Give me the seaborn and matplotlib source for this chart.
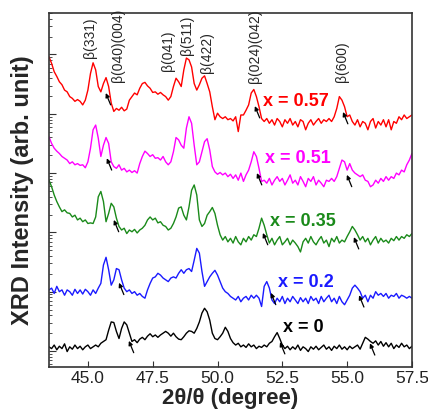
import numpy as np
import pandas as pd
import matplotlib
matplotlib.use("Agg")
import matplotlib.pyplot as plt
import seaborn as sns
from matplotlib.ticker import LogLocator, NullFormatter, FormatStrFormatter

# 2theta scan grid (degree)
two_theta = np.round(np.arange(43.5, 57.55, 0.1), 1)

samples = ["x = 0.57", "x = 0.51", "x = 0.35", "x = 0.2", "x = 0"]
colors = ["#ff0000", "#ff00ff", "#1a8a1a", "#1a1aff", "#000000"]

# log10 of intensity (arb. unit)
log_i_057 = [5.96, 5.85, 5.71, 5.63, 5.54, 5.49, 5.40, 5.37, 5.29, 5.26,
             5.21, 5.24, 5.21, 5.15, 5.23, 5.40, 5.68, 5.86, 5.74, 5.46,
             5.37, 5.51, 5.61, 5.46, 5.18, 5.04, 5.09, 5.06, 5.11, 5.05,
             5.08, 5.23, 5.29, 5.35, 5.32, 5.43, 5.51, 5.53, 5.47, 5.43,
             5.36, 5.37, 5.33, 5.36, 5.32, 5.29, 5.23, 5.29, 5.46, 5.60,
             5.54, 5.46, 5.74, 5.94, 5.91, 5.79, 5.51, 5.40, 5.49, 5.60,
             5.64, 5.51, 5.37, 5.12, 4.90, 5.01, 4.95, 4.92, 4.95, 4.90,
             4.92, 4.88, 4.95, 4.70, 4.98, 4.98, 5.06, 5.15, 5.35, 5.41,
             5.29, 5.12, 4.92, 4.87, 4.92, 4.84, 4.90, 4.81, 4.92, 4.87,
             4.78, 4.90, 4.84, 4.92, 4.81, 4.87, 4.78, 4.90, 4.87, 4.73,
             4.84, 4.90, 4.81, 4.87, 4.92, 4.84, 4.90, 4.87, 4.92, 4.87,
             4.95, 5.09, 5.29, 5.23, 5.12, 4.95, 4.98, 4.87, 4.81, 4.90,
             4.78, 4.87, 4.84, 4.73, 4.87, 4.92, 4.76, 4.87, 4.81, 4.90,
             4.78, 4.90, 4.73, 4.87, 4.84, 4.95, 4.90, 4.98, 4.92, 4.95,
             4.98]
log_i_051 = [4.61, 4.50, 4.42, 4.37, 4.33, 4.28, 4.25, 4.22, 4.16, 4.19,
             4.14, 4.16, 4.13, 4.14, 4.09, 4.19, 4.42, 4.73, 4.81, 4.59,
             4.28, 4.47, 4.60, 4.50, 4.19, 4.11, 4.08, 4.14, 4.05, 4.08,
             4.02, 4.05, 4.01, 4.04, 4.00, 4.16, 4.28, 4.37, 4.33, 4.28,
             4.31, 4.25, 4.26, 4.22, 4.28, 4.19, 4.14, 4.19, 4.36, 4.60,
             4.56, 4.47, 4.42, 4.76, 4.95, 4.84, 4.47, 4.14, 4.19, 4.36,
             4.53, 4.58, 4.39, 4.11, 4.02, 3.98, 4.01, 3.97, 4.00, 3.94,
             3.98, 3.91, 3.97, 3.88, 4.00, 3.86, 3.97, 4.05, 4.19, 4.36,
             4.28, 4.08, 3.86, 3.88, 3.83, 3.91, 3.80, 3.88, 3.94, 3.86,
             3.91, 3.80, 3.88, 3.97, 3.83, 3.88, 3.80, 3.94, 3.86, 3.77,
             3.91, 3.86, 3.94, 3.80, 3.88, 3.83, 3.77, 3.88, 3.86, 3.91,
             3.86, 3.94, 4.08, 4.22, 4.19, 4.05, 4.16, 4.05, 4.00, 3.97,
             3.94, 3.97, 3.88, 3.86, 3.77, 3.80, 3.88, 3.83, 3.91, 3.86,
             3.94, 3.88, 3.94, 3.91, 4.00, 3.97, 4.05, 4.02, 4.14, 4.22,
             4.33]
log_i_035 = [3.88, 3.77, 3.63, 3.52, 3.43, 3.35, 3.38, 3.33, 3.32, 3.26,
             3.29, 3.21, 3.24, 3.18, 3.21, 3.15, 3.16, 3.15, 3.26, 3.60,
             3.69, 3.52, 3.18, 3.32, 3.49, 3.43, 3.24, 3.10, 3.04, 3.07,
             2.98, 3.04, 3.01, 3.05, 2.99, 3.04, 3.07, 3.12, 3.21, 3.26,
             3.21, 3.24, 3.16, 3.18, 3.12, 3.10, 3.04, 3.07, 3.15, 3.26,
             3.41, 3.43, 3.29, 3.21, 3.43, 3.71, 3.80, 3.63, 3.21, 3.10,
             3.15, 3.29, 3.35, 3.42, 3.32, 3.12, 2.96, 2.87, 2.93, 2.84,
             2.90, 2.82, 2.93, 2.84, 2.79, 2.90, 2.84, 2.93, 2.87, 2.96,
             2.93, 3.07, 3.24, 3.12, 2.96, 2.82, 2.90, 2.79, 2.87, 2.93,
             2.79, 2.84, 2.90, 2.79, 2.87, 2.82, 2.76, 2.67, 2.84, 2.90,
             2.82, 2.93, 2.84, 2.79, 2.87, 2.93, 2.82, 2.87, 2.76, 2.90,
             2.84, 2.93, 2.82, 2.87, 2.84, 2.93, 3.01, 3.10, 3.04, 2.96,
             2.87, 2.93, 2.84, 2.90, 2.79, 2.87, 2.93, 2.82, 2.90, 2.84,
             2.87, 2.82, 2.90, 2.86, 2.93, 2.87, 2.93, 2.90, 2.96, 2.93,
             2.98]
log_i_020 = [2.03, 2.06, 1.97, 2.09, 2.00, 2.03, 1.94, 2.03, 2.00, 1.94,
             2.04, 1.97, 2.03, 1.96, 2.04, 2.00, 1.94, 2.03, 1.97, 2.06,
             2.14, 2.45, 2.58, 2.37, 2.11, 2.20, 2.39, 2.37, 2.20, 2.06,
             2.00, 2.03, 1.97, 2.00, 1.94, 1.97, 1.92, 1.89, 2.03, 2.14,
             2.23, 2.25, 2.31, 2.28, 2.23, 2.20, 2.17, 2.23, 2.25, 2.23,
             2.31, 2.37, 2.31, 2.37, 2.39, 2.34, 2.53, 2.73, 2.65, 2.34,
             2.09, 2.17, 2.25, 2.31, 2.36, 2.28, 2.17, 2.06, 2.00, 1.97,
             1.92, 1.89, 1.86, 1.92, 1.83, 1.89, 1.92, 1.86, 1.94, 1.89,
             1.94, 1.89, 1.75, 2.09, 2.17, 2.06, 1.86, 1.80, 1.89, 1.83,
             1.92, 1.80, 1.89, 1.83, 1.92, 1.86, 1.80, 1.90, 1.83, 1.89,
             1.80, 1.92, 1.85, 1.89, 1.80, 1.92, 1.83, 1.89, 1.94, 1.83,
             1.89, 1.80, 1.92, 1.83, 1.78, 1.86, 1.94, 2.06, 2.11, 2.06,
             2.00, 1.89, 1.94, 1.83, 1.94, 1.89, 2.00, 1.94, 1.97, 1.92,
             1.97, 1.89, 1.94, 1.92, 1.97, 1.89, 1.94, 1.92, 1.89, 1.92,
             1.89]
log_i_000 = [1.07, 1.04, 1.10, 1.02, 1.08, 1.04, 1.12, 0.99, 1.07, 1.03,
             1.10, 1.04, 1.08, 1.02, 1.07, 1.10, 1.04, 1.07, 1.10, 1.07,
             1.13, 1.16, 1.19, 1.35, 1.49, 1.48, 1.33, 1.21, 1.38, 1.49,
             1.44, 1.30, 1.16, 1.19, 1.14, 1.20, 1.23, 1.19, 1.25, 1.29,
             1.24, 1.27, 1.23, 1.27, 1.30, 1.33, 1.30, 1.25, 1.30, 1.24,
             1.20, 1.19, 1.24, 1.30, 1.34, 1.33, 1.30, 1.38, 1.49, 1.64,
             1.72, 1.66, 1.52, 1.30, 1.21, 1.19, 1.24, 1.30, 1.40, 1.33,
             1.21, 1.14, 1.10, 1.13, 1.07, 1.10, 1.06, 1.12, 1.07, 1.10,
             1.04, 1.08, 1.06, 1.10, 1.07, 1.13, 1.16, 1.24, 1.31, 1.21,
             1.10, 1.04, 1.08, 1.02, 1.07, 1.03, 1.10, 1.01, 1.07, 1.04,
             0.99, 1.07, 1.03, 1.08, 1.02, 1.06, 1.10, 1.03, 1.07, 1.01,
             1.08, 1.04, 1.10, 1.03, 1.07, 1.02, 1.08, 1.04, 1.07, 1.10,
             1.03, 1.13, 1.23, 1.20, 1.16, 1.13, 1.17, 1.10, 1.16, 1.08,
             1.14, 1.07, 1.13, 1.04, 1.10, 1.06, 1.13, 1.07, 1.10, 1.04,
             1.08]
curves = [log_i_057, log_i_051, log_i_035, log_i_020, log_i_000]

# peak labels: text, 2theta, log10 of label base
peak_labels = [("β(331)", 45.08, 5.94), ("β(040)(004)", 46.16, 5.54),
               ("β(041)", 48.09, 5.72), ("β(511)", 48.82, 5.99),
               ("β(422)", 49.59, 5.69), ("β(024)(042)", 51.44, 5.52),
               ("β(600)", 54.80, 5.54)]
# sample label anchors (2theta, log10 I)
sample_label_pos = [(51.75, 5.20), (51.83, 4.25), (52.02, 3.19), (52.33, 2.15), (52.52, 1.40)]
# arrow heads for the shoulder peaks (2theta, log10 I)
arrow_heads = [(45.69, 5.35), (51.44, 5.13), (54.84, 5.03),
               (45.73, 4.25), (51.52, 4.00), (54.99, 3.97),
               (46.00, 3.21), (51.75, 2.99), (55.26, 2.92),
               (46.20, 2.15), (52.06, 1.98), (55.46, 1.94),
               (46.58, 1.17), (52.41, 1.15), (55.88, 1.13)]

frames = []
for s, v in zip(samples, curves):
    frames.append(pd.DataFrame({"two_theta": two_theta, "intensity": 10 ** np.array(v), "sample": s}))
df = pd.concat(frames, ignore_index=True)

sns.set_style("ticks")
plt.rcParams["font.family"] = ["Liberation Sans", "DejaVu Sans"]

fig = plt.figure(figsize=(4.28, 4.15), dpi=100)
ax = fig.add_axes([0.1145, 0.1157, 0.848, 0.853])
sns.lineplot(data=df, x="two_theta", y="intensity", hue="sample", palette=dict(zip(samples, colors)),
             estimator=None, linewidth=1.0, legend=False, ax=ax)
ax.set_yscale("log")
ax.set_xlim(43.5, 57.5)
ax.set_ylim(10 ** 0.73, 10 ** 6.70)
ax.set_xticks([45.0, 47.5, 50.0, 52.5, 55.0, 57.5])
ax.xaxis.set_major_formatter(FormatStrFormatter("%.1f"))
ax.yaxis.set_major_locator(LogLocator(base=10, numticks=20))
ax.yaxis.set_minor_locator(LogLocator(base=10, subs=np.arange(2, 10), numticks=20))
ax.yaxis.set_major_formatter(NullFormatter())
ax.yaxis.set_minor_formatter(NullFormatter())
ax.tick_params(which="both", direction="in", color="#333333")
ax.tick_params(axis="x", which="major", length=4, pad=3, labelsize=12.5, labelcolor="#222222")
ax.tick_params(axis="y", which="major", length=5)
ax.tick_params(axis="y", which="minor", length=2.5)
for sp in ax.spines.values():
    sp.set_linewidth(1.2)
    sp.set_color("#333333")

ax.set_xlabel("2θ/θ (degree)", fontsize=16, fontweight="bold", labelpad=1)
ax.set_ylabel("XRD Intensity (arb. unit)", fontsize=17, fontweight="bold", labelpad=7)

for txt, xx, ly in peak_labels:
    ax.text(xx, 10 ** ly, txt, rotation=90, ha="center", va="bottom", fontsize=10)
for (xx, ly), s, c in zip(sample_label_pos, samples, colors):
    ax.text(xx, 10 ** ly, s, ha="left", va="center", fontsize=13, fontweight="bold", color=c)
for xx, ly in arrow_heads:
    ax.annotate("", xy=(xx, 10 ** ly), xytext=(3.5, -8.5), textcoords="offset points",
                arrowprops=dict(arrowstyle="-|>", color="black", lw=0.9, mutation_scale=6,
                                shrinkA=0, shrinkB=0))

fig.savefig("out.png", dpi=100)
plt.close()
